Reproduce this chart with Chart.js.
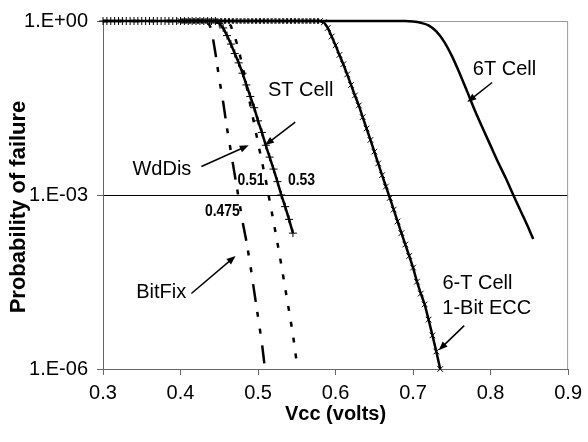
<!DOCTYPE html>
<html>
<head>
<meta charset="utf-8">
<script src="https://cdn.jsdelivr.net/npm/chart.js@4.4.1/dist/chart.umd.min.js"></script>
<style>
  body { margin: 0; background: #fff; }
</style>
</head>
<body>
<canvas id="failChart" width="588" height="442"></canvas>
<script>
// values (Vcc in volts, probability of failure)
const stVcc = [0.300, 0.305, 0.310, 0.315, 0.320, 0.325, 0.330, 0.335, 0.340, 0.345,
               0.350, 0.355, 0.360, 0.365, 0.370, 0.375, 0.380, 0.385, 0.390, 0.395,
               0.400, 0.405, 0.410, 0.415, 0.420, 0.425, 0.430, 0.435, 0.440, 0.445,
               0.450, 0.455, 0.460, 0.465, 0.470, 0.475, 0.480, 0.485, 0.490, 0.495,
               0.500, 0.505, 0.510, 0.515, 0.520, 0.525, 0.530, 0.535, 0.540, 0.545];
const stFail = [1, 1, 1, 1, 1, 1, 1, 1, 1, 1,
                1, 1, 1, 1, 1, 1, 1, 1, 1, 1,
                1, 1, 1, 1, 1, 1, 1, 1, 1, 1,
                0.91, 0.76, 0.56, 0.40, 0.275, 0.19, 0.126, 7.9e-2, 5.0e-2, 3.2e-2,
                1.9e-2, 1.2e-2, 7.2e-3, 4.5e-3, 2.8e-3, 1.7e-3, 1.0e-3, 6.3e-4, 3.8e-4, 2.2e-4];

const eccVcc = [0.400, 0.405, 0.410, 0.415, 0.420, 0.425, 0.430, 0.435, 0.440, 0.445,
                0.450, 0.455, 0.460, 0.465, 0.470, 0.475, 0.480, 0.485, 0.490, 0.495,
                0.500, 0.505, 0.510, 0.515, 0.520, 0.525, 0.530, 0.535, 0.540, 0.545,
                0.550, 0.555, 0.560, 0.565, 0.570, 0.575, 0.580, 0.585, 0.590, 0.595,
                0.600, 0.605, 0.610, 0.615, 0.620, 0.625, 0.630, 0.635, 0.640, 0.645,
                0.650, 0.655, 0.660, 0.665, 0.670, 0.675, 0.680, 0.685, 0.690, 0.695,
                0.700, 0.705, 0.710, 0.715, 0.720, 0.725, 0.730, 0.735];
const eccFail = [1, 1, 1, 1, 1, 1, 1, 1, 1, 1,
                 1, 1, 1, 1, 1, 1, 1, 1, 1, 1,
                 1, 1, 1, 1, 1, 1, 1, 1, 1, 1,
                 1, 1, 1, 1, 1, 1, 1, 0.95, 0.76, 0.54,
                 0.38, 0.26, 0.18, 0.12, 7.9e-2, 5.2e-2, 3.5e-2, 2.2e-2, 1.4e-2, 8.9e-3,
                 5.6e-3, 3.5e-3, 2.2e-3, 1.4e-3, 8.9e-4, 5.6e-4, 3.5e-4, 2.2e-4, 1.4e-4, 8.9e-5,
                 5.6e-5, 3.2e-5, 2.0e-5, 1.3e-5, 7.1e-6, 3.8e-6, 2.0e-6, 1.0e-6];

const sixTVcc = [0.40, 0.69, 0.70, 0.71, 0.72, 0.73, 0.74, 0.75, 0.76, 0.77,
                 0.78, 0.79, 0.80, 0.81, 0.82, 0.83, 0.84, 0.85, 0.855];
const sixTFail = [1, 1, 0.98, 0.93, 0.84, 0.66, 0.44, 0.25, 0.126, 6.0e-2,
                  2.8e-2, 1.4e-2, 7.1e-3, 3.6e-3, 1.9e-3, 9.5e-4, 4.9e-4, 2.5e-4, 1.74e-4];

const wdVcc = [0.30, 0.455, 0.46, 0.465, 0.47, 0.475, 0.48, 0.485, 0.49, 0.495,
               0.50, 0.505, 0.51, 0.515, 0.52, 0.525, 0.53, 0.535, 0.54, 0.545, 0.551];
const wdFail = [1, 1, 0.98, 0.82, 0.54, 0.32, 0.166, 7.9e-2, 3.6e-2, 1.7e-2,
                7.9e-3, 3.8e-3, 1.8e-3, 7.9e-4, 3.5e-4, 1.5e-4, 6.3e-5, 2.5e-5, 1.0e-5, 4.0e-6, 1.0e-6];

const bfVcc = [0.30, 0.435, 0.44, 0.445, 0.45, 0.455, 0.46, 0.465, 0.47, 0.475,
               0.48, 0.485, 0.49, 0.495, 0.50, 0.505, 0.509];
const bfFail = [1, 1, 0.71, 0.28, 0.10, 4.0e-2, 1.4e-2, 5.6e-3, 2.2e-3, 8.9e-4,
                3.5e-4, 1.6e-4, 6.3e-5, 2.2e-5, 7.9e-6, 2.8e-6, 1.0e-6];

const xTicks = [0.3, 0.4, 0.5, 0.6, 0.7, 0.8, 0.9];
const yTicks = [1e-6, 1e-3, 1];

// text labels and arrows, anchored in data units
const notes = [
  { text: '6T Cell', v: 0.818, p: 0.145 },
  { text: 'ST Cell', v: 0.555, p: 6.3e-2 },
  { text: 'WdDis', v: 0.376, p: 2.75e-3 },
  { text: 'BitFix', v: 0.375, p: 2.1e-5 },
  { text: '6-T Cell', v: 0.783, p: 2.95e-5 },
  { text: '1-Bit ECC', v: 0.795, p: 1.1e-5 },
  { text: '0.475', v: 0.454, p: 5.2e-4, bold: true },
  { text: '0.51', v: 0.491, p: 1.8e-3, bold: true },
  { text: '0.53', v: 0.556, p: 1.8e-3, bold: true }
];
const arrows = [
  { v0: 0.802, p0: 8.7e-2, v1: 0.770, p1: 4.0e-2 },
  { v0: 0.548, p0: 1.8e-2, v1: 0.509, p1: 7.2e-3 },
  { v0: 0.427, p0: 3.1e-3, v1: 0.488, p1: 7.2e-3 },
  { v0: 0.414, p0: 2.0e-5, v1: 0.471, p1: 8.9e-5 },
  { v0: 0.766, p0: 5.6e-6, v1: 0.733, p1: 2.1e-6 }
];

const FONT = "'Liberation Sans', Arial, sans-serif";

function toPoints(xs, ys) {
  return xs.map((x, i) => ({ x: x, y: ys[i] }));
}

function expLabel(v) {
  const e = Math.round(Math.log10(v));
  return '1.E' + (e < 0 ? '-' : '+') + String(Math.abs(e)).padStart(2, '0');
}

// grey frame on top/right, y title, labels and arrows
const framePlugin = {
  id: 'frame',
  beforeDatasetsDraw(chart) {
    const { ctx, chartArea: a } = chart;
    ctx.save();
    ctx.strokeStyle = '#999';
    ctx.lineWidth = 1;
    ctx.beginPath();
    ctx.moveTo(a.left, a.top + 0.5);
    ctx.lineTo(a.right - 0.5, a.top + 0.5);
    ctx.lineTo(a.right - 0.5, a.bottom);
    ctx.stroke();
    ctx.restore();
  },
  afterDatasetsDraw(chart) {
    const { ctx, scales: { x, y } } = chart;
    ctx.save();
    ctx.fillStyle = '#000';
    ctx.strokeStyle = '#000';
    ctx.textAlign = 'center';
    ctx.textBaseline = 'middle';

    // y axis title, sits a little below the plot's middle in the original
    ctx.save();
    ctx.translate(19, 207);
    ctx.rotate(-Math.PI / 2);
    ctx.font = 'bold 22px ' + FONT;
    ctx.fillText('Probability of failure', 0, 0);
    ctx.restore();

    notes.forEach(n => {
      const px = x.getPixelForValue(n.v), py = y.getPixelForValue(n.p);
      if (n.bold) {
        // narrow bold digits
        ctx.save();
        ctx.translate(px, py);
        ctx.scale(0.82, 1);
        ctx.font = 'bold 17px ' + FONT;
        ctx.fillText(n.text, 0, 0);
        ctx.restore();
      } else {
        ctx.font = '20px ' + FONT;
        ctx.fillText(n.text, px, py);
      }
    });
    arrows.forEach(ar => {
      const x0 = x.getPixelForValue(ar.v0), y0 = y.getPixelForValue(ar.p0);
      const x1 = x.getPixelForValue(ar.v1), y1 = y.getPixelForValue(ar.p1);
      const ang = Math.atan2(y1 - y0, x1 - x0);
      ctx.lineWidth = 1.5;
      ctx.beginPath();
      ctx.moveTo(x0, y0);
      ctx.lineTo(x1 - 6 * Math.cos(ang), y1 - 6 * Math.sin(ang));
      ctx.stroke();
      ctx.beginPath();
      ctx.moveTo(x1, y1);
      ctx.lineTo(x1 - 9 * Math.cos(ang) + 3.5 * Math.sin(ang), y1 - 9 * Math.sin(ang) - 3.5 * Math.cos(ang));
      ctx.lineTo(x1 - 9 * Math.cos(ang) - 3.5 * Math.sin(ang), y1 - 9 * Math.sin(ang) + 3.5 * Math.cos(ang));
      ctx.closePath();
      ctx.fill();
    });
    ctx.restore();
  }
};

const ctx = document.getElementById('failChart').getContext('2d');
new Chart(ctx, {
  type: 'line',
  data: {
    datasets: [
      {
        label: '6T Cell',
        data: toPoints(sixTVcc, sixTFail),
        borderColor: '#000', borderWidth: 2.5,
        pointRadius: 0, cubicInterpolationMode: 'monotone', clip: false
      },
      {
        label: '6-T Cell 1-Bit ECC',
        data: toPoints(eccVcc, eccFail),
        borderColor: '#000', borderWidth: 2.5,
        pointStyle: 'crossRot', pointRadius: 4, pointBorderWidth: 1,
        pointBorderColor: '#000', clip: false
      },
      {
        label: 'ST Cell',
        data: toPoints(stVcc, stFail),
        borderColor: '#000', borderWidth: 2.5,
        pointStyle: 'cross', pointRadius: 4, pointBorderWidth: 1,
        pointBorderColor: '#000', clip: false
      },
      {
        label: 'WdDis',
        data: toPoints(wdVcc, wdFail),
        borderColor: '#000', borderWidth: 2.5, borderDash: [5, 11],
        pointRadius: 0, clip: false
      },
      {
        label: 'BitFix',
        data: toPoints(bfVcc, bfFail),
        borderColor: '#000', borderWidth: 2.5, borderDash: [18, 10, 5, 12, 5, 12],
        pointRadius: 0, clip: false
      }
    ]
  },
  options: {
    responsive: false,
    animation: false,
    layout: { padding: { top: 18, right: 16, left: 0, bottom: 0 } },
    plugins: { legend: { display: false }, tooltip: { enabled: false } },
    scales: {
      x: {
        type: 'linear', min: 0.3, max: 0.9,
        afterBuildTicks: s => { s.ticks = xTicks.map(v => ({ value: v })); },
        afterFit: s => { s.height = 73; },
        ticks: { color: '#000', padding: 6, font: { family: FONT, size: 20 }, callback: v => v.toFixed(1) },
        grid: { drawOnChartArea: false, drawTicks: true, tickLength: 6, tickColor: '#666' },
        border: { color: '#666', width: 1 },
        title: { display: true, text: 'Vcc (volts)', color: '#000',
                 font: { family: FONT, size: 20, weight: 'bold' }, padding: { top: 0, bottom: 16 } }
      },
      y: {
        type: 'logarithmic', min: 1e-6, max: 1,
        afterBuildTicks: s => { s.ticks = yTicks.map(v => ({ value: v })); },
        afterFit: s => { s.width = 103; },
        ticks: { color: '#000', padding: 9, font: { family: FONT, size: 20 }, callback: v => expLabel(v) },
        grid: {
          color: c => (c.tick && c.tick.value === 1e-3) ? '#000' : 'rgba(0,0,0,0)',
          lineWidth: 1, drawTicks: true, tickLength: 6, tickColor: '#666'
        },
        border: { color: '#666', width: 1 },
        title: { display: false }
      }
    }
  },
  plugins: [framePlugin]
});
</script>
</body>
</html>
